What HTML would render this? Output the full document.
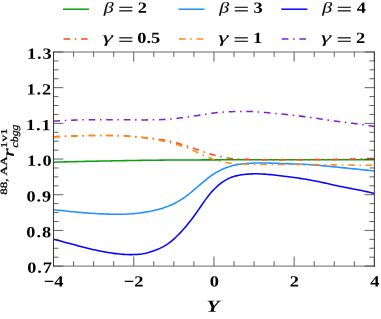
<!DOCTYPE html>
<html><head><meta charset="utf-8"><title>plot</title>
<style>
html,body{margin:0;padding:0;background:#fff;}
svg{display:block;}
text{font-family:"Liberation Serif",serif;font-weight:bold;fill:#000;text-rendering:geometricPrecision;}
.it{font-style:italic;}
.n{font-weight:normal;}
</style></head><body>
<svg width="381" height="319" viewBox="0 0 381 319">
<rect width="381" height="319" fill="#fff"/>
<defs><clipPath id="c"><rect x="53.5" y="52.0" width="320.9" height="214.1"/></clipPath></defs>

<g clip-path="url(#c)" fill="none" stroke-width="1.55" stroke-linejoin="round">
<path d="M53.5,162.20 L55.5,162.15 L57.5,162.09 L59.5,162.04 L61.5,161.99 L63.5,161.93 L65.5,161.88 L67.5,161.83 L69.5,161.78 L71.6,161.73 L73.6,161.68 L75.6,161.63 L77.6,161.58 L79.6,161.53 L81.6,161.48 L83.6,161.43 L85.6,161.39 L87.6,161.34 L89.6,161.30 L91.6,161.25 L93.6,161.21 L95.6,161.17 L97.6,161.13 L99.6,161.09 L101.6,161.05 L103.6,161.01 L105.6,160.97 L107.7,160.94 L109.7,160.90 L111.7,160.86 L113.7,160.82 L115.7,160.79 L117.7,160.75 L119.7,160.72 L121.7,160.68 L123.7,160.64 L125.7,160.61 L127.7,160.58 L129.7,160.54 L131.7,160.51 L133.7,160.48 L135.7,160.45 L137.7,160.42 L139.7,160.39 L141.7,160.36 L143.8,160.33 L145.8,160.30 L147.8,160.28 L149.8,160.25 L151.8,160.23 L153.8,160.21 L155.8,160.19 L157.8,160.16 L159.8,160.14 L161.8,160.13 L163.8,160.11 L165.8,160.09 L167.8,160.07 L169.8,160.06 L171.8,160.04 L173.8,160.03 L175.8,160.02 L177.8,160.00 L179.9,159.99 L181.9,159.98 L183.9,159.97 L185.9,159.96 L187.9,159.95 L189.9,159.94 L191.9,159.93 L193.9,159.92 L195.9,159.91 L197.9,159.91 L199.9,159.90 L201.9,159.89 L203.9,159.89 L205.9,159.88 L207.9,159.88 L209.9,159.87 L211.9,159.86 L213.9,159.86 L216.0,159.86 L218.0,159.85 L220.0,159.85 L222.0,159.84 L224.0,159.84 L226.0,159.84 L228.0,159.83 L230.0,159.83 L232.0,159.83 L234.0,159.82 L236.0,159.82 L238.0,159.82 L240.0,159.82 L242.0,159.82 L244.0,159.81 L246.0,159.81 L248.0,159.81 L250.1,159.81 L252.1,159.81 L254.1,159.80 L256.1,159.80 L258.1,159.80 L260.1,159.80 L262.1,159.80 L264.1,159.80 L266.1,159.79 L268.1,159.79 L270.1,159.79 L272.1,159.79 L274.1,159.79 L276.1,159.79 L278.1,159.78 L280.1,159.78 L282.1,159.78 L284.1,159.78 L286.2,159.78 L288.2,159.78 L290.2,159.77 L292.2,159.77 L294.2,159.77 L296.2,159.77 L298.2,159.77 L300.2,159.77 L302.2,159.76 L304.2,159.76 L306.2,159.76 L308.2,159.76 L310.2,159.76 L312.2,159.76 L314.2,159.75 L316.2,159.75 L318.2,159.75 L320.2,159.75 L322.3,159.75 L324.3,159.75 L326.3,159.74 L328.3,159.74 L330.3,159.74 L332.3,159.74 L334.3,159.74 L336.3,159.73 L338.3,159.73 L340.3,159.73 L342.3,159.73 L344.3,159.73 L346.3,159.73 L348.3,159.72 L350.3,159.72 L352.3,159.72 L354.3,159.72 L356.3,159.72 L358.4,159.71 L360.4,159.71 L362.4,159.71 L364.4,159.71 L366.4,159.71 L368.4,159.71 L370.4,159.70 L372.4,159.70 L374.4,159.70" stroke="#0fa00f"/>
<path d="M53.5,209.70 L55.5,209.93 L57.5,210.15 L59.5,210.37 L61.5,210.59 L63.5,210.81 L65.5,211.03 L67.5,211.24 L69.5,211.45 L71.6,211.65 L73.6,211.84 L75.6,212.03 L77.6,212.21 L79.6,212.39 L81.6,212.56 L83.6,212.72 L85.6,212.87 L87.6,213.02 L89.6,213.16 L91.6,213.29 L93.6,213.42 L95.6,213.54 L97.6,213.66 L99.6,213.77 L101.6,213.87 L103.6,213.96 L105.6,214.05 L107.7,214.12 L109.7,214.19 L111.7,214.24 L113.7,214.28 L115.7,214.30 L117.7,214.31 L119.7,214.30 L121.7,214.27 L123.7,214.23 L125.7,214.16 L127.7,214.06 L129.7,213.94 L131.7,213.79 L133.7,213.61 L135.7,213.41 L137.7,213.18 L139.7,212.92 L141.7,212.65 L143.8,212.37 L145.8,212.07 L147.8,211.74 L149.8,211.39 L151.8,211.01 L153.8,210.59 L155.8,210.12 L157.8,209.61 L159.8,209.05 L161.8,208.45 L163.8,207.80 L165.8,207.10 L167.8,206.36 L169.8,205.56 L171.8,204.69 L173.8,203.75 L175.8,202.71 L177.8,201.59 L179.9,200.39 L181.9,199.11 L183.9,197.76 L185.9,196.33 L187.9,194.83 L189.9,193.26 L191.9,191.62 L193.9,189.94 L195.9,188.24 L197.9,186.52 L199.9,184.82 L201.9,183.13 L203.9,181.46 L205.9,179.82 L207.9,178.22 L209.9,176.69 L211.9,175.24 L213.9,173.87 L216.0,172.61 L218.0,171.45 L220.0,170.39 L222.0,169.43 L224.0,168.55 L226.0,167.75 L228.0,167.03 L230.0,166.38 L232.0,165.81 L234.0,165.30 L236.0,164.87 L238.0,164.49 L240.0,164.17 L242.0,163.91 L244.0,163.68 L246.0,163.50 L248.0,163.35 L250.1,163.24 L252.1,163.15 L254.1,163.08 L256.1,163.03 L258.1,163.01 L260.1,163.00 L262.1,163.00 L264.1,163.02 L266.1,163.04 L268.1,163.08 L270.1,163.12 L272.1,163.18 L274.1,163.24 L276.1,163.30 L278.1,163.38 L280.1,163.45 L282.1,163.53 L284.1,163.60 L286.2,163.68 L288.2,163.76 L290.2,163.83 L292.2,163.90 L294.2,163.98 L296.2,164.05 L298.2,164.12 L300.2,164.20 L302.2,164.29 L304.2,164.38 L306.2,164.48 L308.2,164.59 L310.2,164.71 L312.2,164.85 L314.2,165.00 L316.2,165.16 L318.2,165.32 L320.2,165.50 L322.3,165.69 L324.3,165.88 L326.3,166.07 L328.3,166.27 L330.3,166.48 L332.3,166.68 L334.3,166.88 L336.3,167.08 L338.3,167.28 L340.3,167.48 L342.3,167.68 L344.3,167.87 L346.3,168.07 L348.3,168.27 L350.3,168.47 L352.3,168.66 L354.3,168.86 L356.3,169.07 L358.4,169.27 L360.4,169.48 L362.4,169.69 L364.4,169.90 L366.4,170.12 L368.4,170.34 L370.4,170.56 L372.4,170.78 L374.4,171.00" stroke="#1e90ff"/>
<path d="M53.5,239.20 L55.5,239.74 L57.5,240.28 L59.5,240.82 L61.5,241.36 L63.5,241.90 L65.5,242.43 L67.5,242.97 L69.5,243.50 L71.6,244.04 L73.6,244.57 L75.6,245.10 L77.6,245.63 L79.6,246.15 L81.6,246.67 L83.6,247.19 L85.6,247.69 L87.6,248.19 L89.6,248.68 L91.6,249.16 L93.6,249.63 L95.6,250.08 L97.6,250.52 L99.6,250.94 L101.6,251.35 L103.6,251.74 L105.6,252.10 L107.7,252.45 L109.7,252.78 L111.7,253.08 L113.7,253.37 L115.7,253.62 L117.7,253.85 L119.7,254.06 L121.7,254.23 L123.7,254.38 L125.7,254.49 L127.7,254.57 L129.7,254.62 L131.7,254.63 L133.7,254.60 L135.7,254.52 L137.7,254.39 L139.7,254.19 L141.7,253.93 L143.8,253.59 L145.8,253.17 L147.8,252.67 L149.8,252.09 L151.8,251.45 L153.8,250.77 L155.8,250.03 L157.8,249.23 L159.8,248.36 L161.8,247.41 L163.8,246.37 L165.8,245.21 L167.8,243.91 L169.8,242.45 L171.8,240.83 L173.8,239.08 L175.8,237.20 L177.8,235.22 L179.9,233.14 L181.9,230.98 L183.9,228.73 L185.9,226.41 L187.9,224.00 L189.9,221.51 L191.9,218.92 L193.9,216.23 L195.9,213.44 L197.9,210.59 L199.9,207.70 L201.9,204.80 L203.9,201.92 L205.9,199.12 L207.9,196.44 L209.9,193.94 L211.9,191.61 L213.9,189.45 L216.0,187.45 L218.0,185.62 L220.0,183.96 L222.0,182.44 L224.0,181.09 L226.0,179.87 L228.0,178.81 L230.0,177.88 L232.0,177.09 L234.0,176.42 L236.0,175.87 L238.0,175.41 L240.0,175.03 L242.0,174.73 L244.0,174.48 L246.0,174.28 L248.0,174.11 L250.1,173.99 L252.1,173.89 L254.1,173.84 L256.1,173.83 L258.1,173.85 L260.1,173.91 L262.1,174.00 L264.1,174.12 L266.1,174.27 L268.1,174.43 L270.1,174.62 L272.1,174.82 L274.1,175.03 L276.1,175.26 L278.1,175.48 L280.1,175.71 L282.1,175.95 L284.1,176.19 L286.2,176.44 L288.2,176.69 L290.2,176.95 L292.2,177.22 L294.2,177.50 L296.2,177.78 L298.2,178.08 L300.2,178.38 L302.2,178.69 L304.2,179.02 L306.2,179.35 L308.2,179.70 L310.2,180.05 L312.2,180.42 L314.2,180.80 L316.2,181.19 L318.2,181.59 L320.2,182.01 L322.3,182.44 L324.3,182.88 L326.3,183.33 L328.3,183.78 L330.3,184.24 L332.3,184.69 L334.3,185.14 L336.3,185.57 L338.3,186.00 L340.3,186.41 L342.3,186.81 L344.3,187.21 L346.3,187.60 L348.3,187.99 L350.3,188.38 L352.3,188.77 L354.3,189.16 L356.3,189.56 L358.4,189.96 L360.4,190.36 L362.4,190.78 L364.4,191.20 L366.4,191.63 L368.4,192.07 L370.4,192.51 L372.4,192.95 L374.4,193.40" stroke="#0606fa"/>
<path d="M53.5,136.80 L55.5,136.70 L57.5,136.61 L59.5,136.52 L61.5,136.43 L63.5,136.34 L65.5,136.26 L67.5,136.17 L69.5,136.09 L71.6,136.02 L73.6,135.95 L75.6,135.88 L77.6,135.83 L79.6,135.77 L81.6,135.72 L83.6,135.68 L85.6,135.64 L87.6,135.61 L89.6,135.58 L91.6,135.55 L93.6,135.53 L95.6,135.52 L97.6,135.51 L99.6,135.50 L101.6,135.50 L103.6,135.50 L105.6,135.50 L107.7,135.51 L109.7,135.52 L111.7,135.54 L113.7,135.57 L115.7,135.60 L117.7,135.64 L119.7,135.69 L121.7,135.75 L123.7,135.83 L125.7,135.92 L127.7,136.04 L129.7,136.17 L131.7,136.32 L133.7,136.49 L135.7,136.67 L137.7,136.86 L139.7,137.06 L141.7,137.26 L143.8,137.47 L145.8,137.68 L147.8,137.90 L149.8,138.12 L151.8,138.34 L153.8,138.58 L155.8,138.84 L157.8,139.11 L159.8,139.41 L161.8,139.73 L163.8,140.09 L165.8,140.47 L167.8,140.89 L169.8,141.33 L171.8,141.79 L173.8,142.29 L175.8,142.81 L177.8,143.35 L179.9,143.92 L181.9,144.51 L183.9,145.12 L185.9,145.75 L187.9,146.40 L189.9,147.06 L191.9,147.73 L193.9,148.42 L195.9,149.11 L197.9,149.81 L199.9,150.50 L201.9,151.20 L203.9,151.90 L205.9,152.58 L207.9,153.25 L209.9,153.89 L211.9,154.49 L213.9,155.06 L216.0,155.58 L218.0,156.06 L220.0,156.52 L222.0,156.94 L224.0,157.34 L226.0,157.70 L228.0,158.02 L230.0,158.29 L232.0,158.51 L234.0,158.70 L236.0,158.85 L238.0,158.97 L240.0,159.07 L242.0,159.15 L244.0,159.22 L246.0,159.29 L248.0,159.35 L250.1,159.41 L252.1,159.48 L254.1,159.54 L256.1,159.59 L258.1,159.65 L260.1,159.70 L262.1,159.74 L264.1,159.77 L266.1,159.80 L268.1,159.82 L270.1,159.83 L272.1,159.85 L274.1,159.85 L276.1,159.85 L278.1,159.85 L280.1,159.85 L282.1,159.84 L284.1,159.83 L286.2,159.82 L288.2,159.80 L290.2,159.79 L292.2,159.77 L294.2,159.75 L296.2,159.73 L298.2,159.72 L300.2,159.70 L302.2,159.69 L304.2,159.67 L306.2,159.66 L308.2,159.64 L310.2,159.63 L312.2,159.61 L314.2,159.60 L316.2,159.59 L318.2,159.57 L320.2,159.55 L322.3,159.54 L324.3,159.52 L326.3,159.50 L328.3,159.48 L330.3,159.45 L332.3,159.42 L334.3,159.40 L336.3,159.36 L338.3,159.33 L340.3,159.29 L342.3,159.25 L344.3,159.21 L346.3,159.16 L348.3,159.11 L350.3,159.06 L352.3,159.01 L354.3,158.96 L356.3,158.90 L358.4,158.85 L360.4,158.79 L362.4,158.74 L364.4,158.68 L366.4,158.62 L368.4,158.57 L370.4,158.51 L372.4,158.46 L374.4,158.40" stroke="#ff4816" stroke-dasharray="6.6 4.7 1.5 4.78"/>
<path d="M53.5,136.80 L55.5,136.70 L57.5,136.61 L59.5,136.52 L61.5,136.43 L63.5,136.34 L65.5,136.25 L67.5,136.17 L69.5,136.09 L71.6,136.02 L73.6,135.95 L75.6,135.89 L77.6,135.83 L79.6,135.77 L81.6,135.73 L83.6,135.68 L85.6,135.65 L87.6,135.61 L89.6,135.59 L91.6,135.56 L93.6,135.54 L95.6,135.52 L97.6,135.51 L99.6,135.49 L101.6,135.49 L103.6,135.48 L105.6,135.48 L107.7,135.49 L109.7,135.51 L111.7,135.53 L113.7,135.57 L115.7,135.63 L117.7,135.69 L119.7,135.78 L121.7,135.87 L123.7,135.98 L125.7,136.11 L127.7,136.24 L129.7,136.39 L131.7,136.56 L133.7,136.74 L135.7,136.93 L137.7,137.14 L139.7,137.36 L141.7,137.59 L143.8,137.84 L145.8,138.11 L147.8,138.38 L149.8,138.68 L151.8,138.99 L153.8,139.32 L155.8,139.67 L157.8,140.03 L159.8,140.42 L161.8,140.82 L163.8,141.25 L165.8,141.69 L167.8,142.16 L169.8,142.66 L171.8,143.18 L173.8,143.73 L175.8,144.30 L177.8,144.91 L179.9,145.54 L181.9,146.21 L183.9,146.91 L185.9,147.64 L187.9,148.40 L189.9,149.20 L191.9,150.04 L193.9,150.91 L195.9,151.82 L197.9,152.77 L199.9,153.73 L201.9,154.68 L203.9,155.60 L205.9,156.48 L207.9,157.31 L209.9,158.09 L211.9,158.82 L213.9,159.50 L216.0,160.13 L218.0,160.70 L220.0,161.23 L222.0,161.70 L224.0,162.13 L226.0,162.51 L228.0,162.84 L230.0,163.13 L232.0,163.37 L234.0,163.57 L236.0,163.74 L238.0,163.88 L240.0,164.00 L242.0,164.09 L244.0,164.16 L246.0,164.22 L248.0,164.27 L250.1,164.31 L252.1,164.34 L254.1,164.36 L256.1,164.38 L258.1,164.39 L260.1,164.40 L262.1,164.42 L264.1,164.42 L266.1,164.43 L268.1,164.44 L270.1,164.45 L272.1,164.45 L274.1,164.46 L276.1,164.46 L278.1,164.47 L280.1,164.47 L282.1,164.48 L284.1,164.48 L286.2,164.49 L288.2,164.49 L290.2,164.50 L292.2,164.51 L294.2,164.52 L296.2,164.52 L298.2,164.53 L300.2,164.54 L302.2,164.56 L304.2,164.57 L306.2,164.58 L308.2,164.59 L310.2,164.61 L312.2,164.63 L314.2,164.64 L316.2,164.66 L318.2,164.68 L320.2,164.70 L322.3,164.73 L324.3,164.75 L326.3,164.77 L328.3,164.80 L330.3,164.83 L332.3,164.85 L334.3,164.88 L336.3,164.91 L338.3,164.94 L340.3,164.96 L342.3,164.99 L344.3,165.02 L346.3,165.05 L348.3,165.08 L350.3,165.10 L352.3,165.13 L354.3,165.16 L356.3,165.18 L358.4,165.21 L360.4,165.23 L362.4,165.26 L364.4,165.28 L366.4,165.31 L368.4,165.33 L370.4,165.35 L372.4,165.38 L374.4,165.40" stroke="#ff8a1a" stroke-dasharray="6.6 4.7 1.5 4.78"/>
<path d="M53.5,121.20 L55.5,121.07 L57.5,120.95 L59.5,120.83 L61.5,120.72 L63.5,120.60 L65.5,120.49 L67.5,120.39 L69.5,120.29 L71.6,120.20 L73.6,120.11 L75.6,120.03 L77.6,119.97 L79.6,119.91 L81.6,119.86 L83.6,119.81 L85.6,119.77 L87.6,119.74 L89.6,119.72 L91.6,119.69 L93.6,119.68 L95.6,119.67 L97.6,119.66 L99.6,119.65 L101.6,119.65 L103.6,119.64 L105.6,119.64 L107.7,119.65 L109.7,119.65 L111.7,119.66 L113.7,119.67 L115.7,119.68 L117.7,119.69 L119.7,119.70 L121.7,119.72 L123.7,119.73 L125.7,119.75 L127.7,119.77 L129.7,119.80 L131.7,119.82 L133.7,119.84 L135.7,119.86 L137.7,119.87 L139.7,119.89 L141.7,119.90 L143.8,119.90 L145.8,119.90 L147.8,119.89 L149.8,119.88 L151.8,119.86 L153.8,119.83 L155.8,119.78 L157.8,119.73 L159.8,119.66 L161.8,119.58 L163.8,119.49 L165.8,119.38 L167.8,119.25 L169.8,119.10 L171.8,118.94 L173.8,118.75 L175.8,118.55 L177.8,118.33 L179.9,118.09 L181.9,117.84 L183.9,117.58 L185.9,117.30 L187.9,117.01 L189.9,116.72 L191.9,116.41 L193.9,116.09 L195.9,115.77 L197.9,115.45 L199.9,115.12 L201.9,114.79 L203.9,114.47 L205.9,114.15 L207.9,113.84 L209.9,113.55 L211.9,113.27 L213.9,113.02 L216.0,112.78 L218.0,112.57 L220.0,112.39 L222.0,112.23 L224.0,112.08 L226.0,111.96 L228.0,111.85 L230.0,111.75 L232.0,111.67 L234.0,111.59 L236.0,111.52 L238.0,111.46 L240.0,111.42 L242.0,111.40 L244.0,111.39 L246.0,111.40 L248.0,111.44 L250.1,111.50 L252.1,111.59 L254.1,111.69 L256.1,111.81 L258.1,111.95 L260.1,112.09 L262.1,112.25 L264.1,112.42 L266.1,112.59 L268.1,112.77 L270.1,112.95 L272.1,113.13 L274.1,113.32 L276.1,113.51 L278.1,113.70 L280.1,113.90 L282.1,114.10 L284.1,114.31 L286.2,114.52 L288.2,114.73 L290.2,114.95 L292.2,115.17 L294.2,115.40 L296.2,115.64 L298.2,115.88 L300.2,116.13 L302.2,116.38 L304.2,116.64 L306.2,116.90 L308.2,117.17 L310.2,117.45 L312.2,117.73 L314.2,118.01 L316.2,118.31 L318.2,118.60 L320.2,118.91 L322.3,119.21 L324.3,119.52 L326.3,119.83 L328.3,120.13 L330.3,120.43 L332.3,120.73 L334.3,121.02 L336.3,121.30 L338.3,121.56 L340.3,121.82 L342.3,122.07 L344.3,122.31 L346.3,122.55 L348.3,122.78 L350.3,123.02 L352.3,123.26 L354.3,123.50 L356.3,123.75 L358.4,124.01 L360.4,124.28 L362.4,124.57 L364.4,124.87 L366.4,125.18 L368.4,125.50 L370.4,125.83 L372.4,126.16 L374.4,126.49" stroke="#8420c6" stroke-dasharray="6.6 4.7 1.5 4.78"/>
</g>
<path d="M53.50,266.1v-9.6M53.50,52.0v9.6M73.56,266.1v-4.9M73.56,52.0v4.9M93.61,266.1v-4.9M93.61,52.0v4.9M113.67,266.1v-4.9M113.67,52.0v4.9M133.72,266.1v-9.6M133.72,52.0v9.6M153.78,266.1v-4.9M153.78,52.0v4.9M173.84,266.1v-4.9M173.84,52.0v4.9M193.89,266.1v-4.9M193.89,52.0v4.9M213.95,266.1v-9.6M213.95,52.0v9.6M234.01,266.1v-4.9M234.01,52.0v4.9M254.06,266.1v-4.9M254.06,52.0v4.9M274.12,266.1v-4.9M274.12,52.0v4.9M294.17,266.1v-9.6M294.17,52.0v9.6M314.23,266.1v-4.9M314.23,52.0v4.9M334.29,266.1v-4.9M334.29,52.0v4.9M354.34,266.1v-4.9M354.34,52.0v4.9M374.40,266.1v-9.6M374.40,52.0v9.6M53.5,266.10h9.8M374.4,266.10h-9.8M53.5,257.18h5.0M374.4,257.18h-5.0M53.5,248.26h5.0M374.4,248.26h-5.0M53.5,239.34h5.0M374.4,239.34h-5.0M53.5,230.42h9.8M374.4,230.42h-9.8M53.5,221.50h5.0M374.4,221.50h-5.0M53.5,212.57h5.0M374.4,212.57h-5.0M53.5,203.65h5.0M374.4,203.65h-5.0M53.5,194.73h9.8M374.4,194.73h-9.8M53.5,185.81h5.0M374.4,185.81h-5.0M53.5,176.89h5.0M374.4,176.89h-5.0M53.5,167.97h5.0M374.4,167.97h-5.0M53.5,159.05h9.8M374.4,159.05h-9.8M53.5,150.13h5.0M374.4,150.13h-5.0M53.5,141.21h5.0M374.4,141.21h-5.0M53.5,132.29h5.0M374.4,132.29h-5.0M53.5,123.37h9.8M374.4,123.37h-9.8M53.5,114.45h5.0M374.4,114.45h-5.0M53.5,105.53h5.0M374.4,105.53h-5.0M53.5,96.60h5.0M374.4,96.60h-5.0M53.5,87.68h9.8M374.4,87.68h-9.8M53.5,78.76h5.0M374.4,78.76h-5.0M53.5,69.84h5.0M374.4,69.84h-5.0M53.5,60.92h5.0M374.4,60.92h-5.0M53.5,52.00h9.8M374.4,52.00h-9.8" stroke="#3a3a3a" stroke-width="0.8" fill="none"/>
<path d="M53.05,52.0H374.84999999999997M53.05,266.1H374.84999999999997" stroke="#444" stroke-width="0.8" fill="none"/>
<path d="M53.5,51.6V266.5M374.4,51.6V266.5" stroke="#303030" stroke-width="0.95" fill="none"/>
<g style="mix-blend-mode:multiply;will-change:transform">
<text transform="translate(27.31,272.85) rotate(0.03) scale(1.17,1)" font-size="15.6" letter-spacing="0.78">0.7</text>
<text transform="translate(26.37,237.17) rotate(0.03) scale(1.17,1)" font-size="15.6" letter-spacing="0.78">0.8</text>
<text transform="translate(26.42,201.48) rotate(0.03) scale(1.17,1)" font-size="15.6" letter-spacing="0.78">0.9</text>
<text transform="translate(27.05,165.80) rotate(0.03) scale(1.17,1)" font-size="15.6" letter-spacing="0.78">1.0</text>
<text transform="translate(26.00,130.12) rotate(0.03) scale(1.17,1)" font-size="15.6" letter-spacing="0.78">1.1</text>
<text transform="translate(26.54,94.43) rotate(0.03) scale(1.17,1)" font-size="15.6" letter-spacing="0.78">1.2</text>
<text transform="translate(26.98,58.75) rotate(0.03) scale(1.17,1)" font-size="15.6" letter-spacing="0.78">1.3</text>
<text transform="translate(43.84,286.6) rotate(0.03) scale(1.18,1)" font-size="15.6">−4</text>
<text transform="translate(123.76,286.6) rotate(0.03) scale(1.18,1)" font-size="15.6">−2</text>
<text transform="translate(209.70,286.6) rotate(0.03) scale(1.18,1)" font-size="15.6">0</text>
<text transform="translate(289.81,286.6) rotate(0.03) scale(1.18,1)" font-size="15.6">2</text>
<text transform="translate(370.24,286.6) rotate(0.03) scale(1.18,1)" font-size="15.6">4</text>
<text transform="translate(206.41,311.80) rotate(0.03) scale(1.326,1.060)" font-size="16.0" class="it">Y</text>
<g transform="rotate(-90)">
<text transform="translate(-194.64,7.07) rotate(0.03) scale(0.811,0.603)" font-size="16.0" class="n" stroke="#000" stroke-width="0.42">88,</text>
<text transform="translate(-175.78,6.90) rotate(0.03) scale(0.854,0.592)" font-size="16.0" class="n" stroke="#000" stroke-width="0.42">AA</text>
<text transform="translate(-156.85,13.68) rotate(0.03) scale(1.342,0.975)" font-size="16.0" class="it n" stroke="#000" stroke-width="0.39">r</text>
<text transform="translate(-148.21,6.86) rotate(0.03) scale(0.827,0.564)" font-size="16.0" class="n" stroke="#000" stroke-width="0.43">1v1</text>
<text transform="translate(-147.51,17.84) rotate(0.03) scale(0.740,0.648)" font-size="16.0" class="it n" stroke="#000" stroke-width="0.43">cbgg</text>
</g>
<path d="M63.0,9.2h26" stroke="#0fa00f" stroke-width="1.5" fill="none"/>
<text transform="translate(103.87,12.47) rotate(0.03) scale(1.243,0.934)" font-size="16.0" class="it n" stroke="#000" stroke-width="0.09">β</text>
<text transform="translate(118.10,14.78) rotate(0.03) scale(1.726,1.088)" font-size="16.0" class="n" stroke="#000" stroke-width="0.11">=</text>
<text transform="translate(137.83,12.8) rotate(0.03) scale(1.18,1)" font-size="15.6">2</text>
<path d="M178.5,9.2h26" stroke="#1e90ff" stroke-width="1.5" fill="none"/>
<text transform="translate(219.37,12.47) rotate(0.03) scale(1.243,0.934)" font-size="16.0" class="it n" stroke="#000" stroke-width="0.09">β</text>
<text transform="translate(233.60,14.78) rotate(0.03) scale(1.726,1.088)" font-size="16.0" class="n" stroke="#000" stroke-width="0.11">=</text>
<text transform="translate(253.41,12.8) rotate(0.03) scale(1.18,1)" font-size="15.6">3</text>
<path d="M281.3,9.2h26" stroke="#0606fa" stroke-width="1.5" fill="none"/>
<text transform="translate(322.17,12.47) rotate(0.03) scale(1.243,0.934)" font-size="16.0" class="it n" stroke="#000" stroke-width="0.09">β</text>
<text transform="translate(336.40,14.78) rotate(0.03) scale(1.726,1.088)" font-size="16.0" class="n" stroke="#000" stroke-width="0.11">=</text>
<text transform="translate(356.65,12.8) rotate(0.03) scale(1.18,1)" font-size="15.6">4</text>
<path d="M63.5,39.1h24.6" stroke="#ff4816" stroke-width="1.5" fill="none" stroke-dasharray="6.6 4.7 1.5 4.78"/>
<text transform="translate(102.69,42.59) rotate(0.03) scale(1.602,0.986)" font-size="16.0" class="it n" stroke="#000" stroke-width="0.08">γ</text>
<text transform="translate(118.10,45.33) rotate(0.03) scale(1.726,1.087)" font-size="16.0" class="n" stroke="#000" stroke-width="0.11">=</text>
<text transform="translate(137.30,42.9) rotate(0.03) scale(1.18,1)" font-size="15.6">0.5</text>
<path d="M179.0,39.1h24.6" stroke="#ff8a1a" stroke-width="1.5" fill="none" stroke-dasharray="6.6 4.7 1.5 4.78"/>
<text transform="translate(218.19,42.59) rotate(0.03) scale(1.602,0.986)" font-size="16.0" class="it n" stroke="#000" stroke-width="0.08">γ</text>
<text transform="translate(233.60,45.33) rotate(0.03) scale(1.726,1.087)" font-size="16.0" class="n" stroke="#000" stroke-width="0.11">=</text>
<text transform="translate(252.93,42.9) rotate(0.03) scale(1.18,1)" font-size="15.6">1</text>
<path d="M281.8,39.1h24.6" stroke="#8420c6" stroke-width="1.5" fill="none" stroke-dasharray="6.6 4.7 1.5 4.78"/>
<text transform="translate(320.99,42.59) rotate(0.03) scale(1.602,0.986)" font-size="16.0" class="it n" stroke="#000" stroke-width="0.08">γ</text>
<text transform="translate(336.40,45.33) rotate(0.03) scale(1.726,1.087)" font-size="16.0" class="n" stroke="#000" stroke-width="0.11">=</text>
<text transform="translate(355.93,42.9) rotate(0.03) scale(1.18,1)" font-size="15.6">2</text>
</g>
</svg></body></html>
